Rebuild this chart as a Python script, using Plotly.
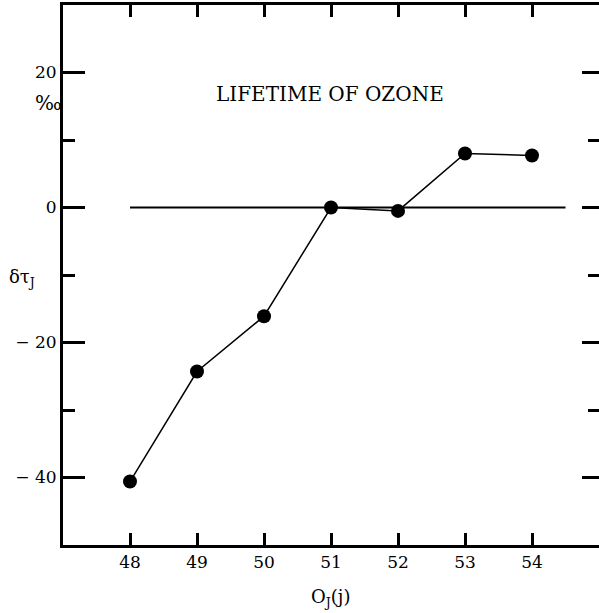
import plotly.graph_objects as go

j_vals = [48, 49, 50, 51, 52, 53, 54]
delta_tau = [-40.6, -24.3, -16.1, 0.0, -0.5, 8.0, 7.7]
zero_x = [48, 54.5]
zero_y = [0, 0]
y_tickvals = [-40, -20, 0, 20]
y_ticktext = ["\u2212 40", "\u2212 20", "0", "20"]
x_tickvals = [48, 49, 50, 51, 52, 53, 54]
x_ticktext = ["48", "49", "50", "51", "52", "53", "54"]

FONT = "DejaVu Serif"
L, R, T, B = 63, 0, 5, 68
W, H = 599, 613
PW, PH = W - L - R, H - T - B


def px(x):
    return (x - L) / PW


def py(y):
    return (H - B - y) / PH


fig = go.Figure()
fig.add_trace(go.Scatter(x=zero_x, y=zero_y, mode="lines",
                         line=dict(color="black", width=2), showlegend=False))
fig.add_trace(go.Scatter(x=j_vals, y=delta_tau, mode="lines+markers",
                         line=dict(color="black", width=1.5),
                         marker=dict(color="black", size=14), showlegend=False))
fig.add_trace(go.Scatter(x=[None], y=[None], yaxis="y2", showlegend=False))

fig.update_layout(
    width=W, height=H,
    margin=dict(l=L, r=R, t=T, b=B, autoexpand=False),
    paper_bgcolor="white", plot_bgcolor="white",
    font=dict(family=FONT, color="black", size=17),
    xaxis=dict(range=[47, 55], tickvals=x_tickvals, ticktext=x_ticktext,
               ticks="inside", ticklen=12, tickwidth=2.5, tickcolor="black",
               showline=True, linewidth=2.5, linecolor="black", mirror="ticks",
               showgrid=False, zeroline=False, automargin=False,
               tickfont=dict(family=FONT, size=17)),
    yaxis=dict(range=[-50, 30], tickvals=y_tickvals, ticktext=y_ticktext,
               ticks="inside", ticklen=22, tickwidth=3, tickcolor="black",
               minor=dict(ticks="inside", ticklen=12, tickwidth=3, dtick=10,
                          tick0=0, tickcolor="black", showgrid=False),
               showline=True, linewidth=3, linecolor="black",
               showgrid=False, zeroline=False, automargin=False,
               tickfont=dict(family=FONT, size=17)),
    yaxis2=dict(range=[-50, 30], overlaying="y", side="right", anchor="x",
                tickvals=y_tickvals, ticks="inside", ticklen=17, tickwidth=3,
                tickcolor="black", showticklabels=False,
                minor=dict(ticks="inside", ticklen=11, tickwidth=3, dtick=10,
                           tick0=0, tickcolor="black", showgrid=False),
                showline=False, showgrid=False, zeroline=False, automargin=False),
    annotations=[
        dict(x=px(330), y=py(80), xref="paper", yref="paper", text="LIFETIME OF OZONE",
             showarrow=False, font=dict(size=20, family=FONT)),
        dict(x=px(48), y=py(103), xref="paper", yref="paper",
             text="\u2030", showarrow=False, font=dict(size=20, family=FONT),
             xanchor="center", yanchor="middle"),
        dict(x=px(7), y=py(278), xref="paper", yref="paper",
             text="\u03b4\u03c4<sub>J</sub>", showarrow=False, xanchor="left",
             font=dict(size=18, family=FONT), yanchor="middle"),
        dict(x=px(330), y=py(598), xref="paper", yref="paper",
             text="O<sub>J</sub>(j)", showarrow=False,
             font=dict(size=18, family=FONT), yanchor="middle"),
    ],
)
fig.write_html("out.html", config={"displayModeBar": False},
               post_script="document.body.style.margin='0';document.body.style.overflow='hidden';")
